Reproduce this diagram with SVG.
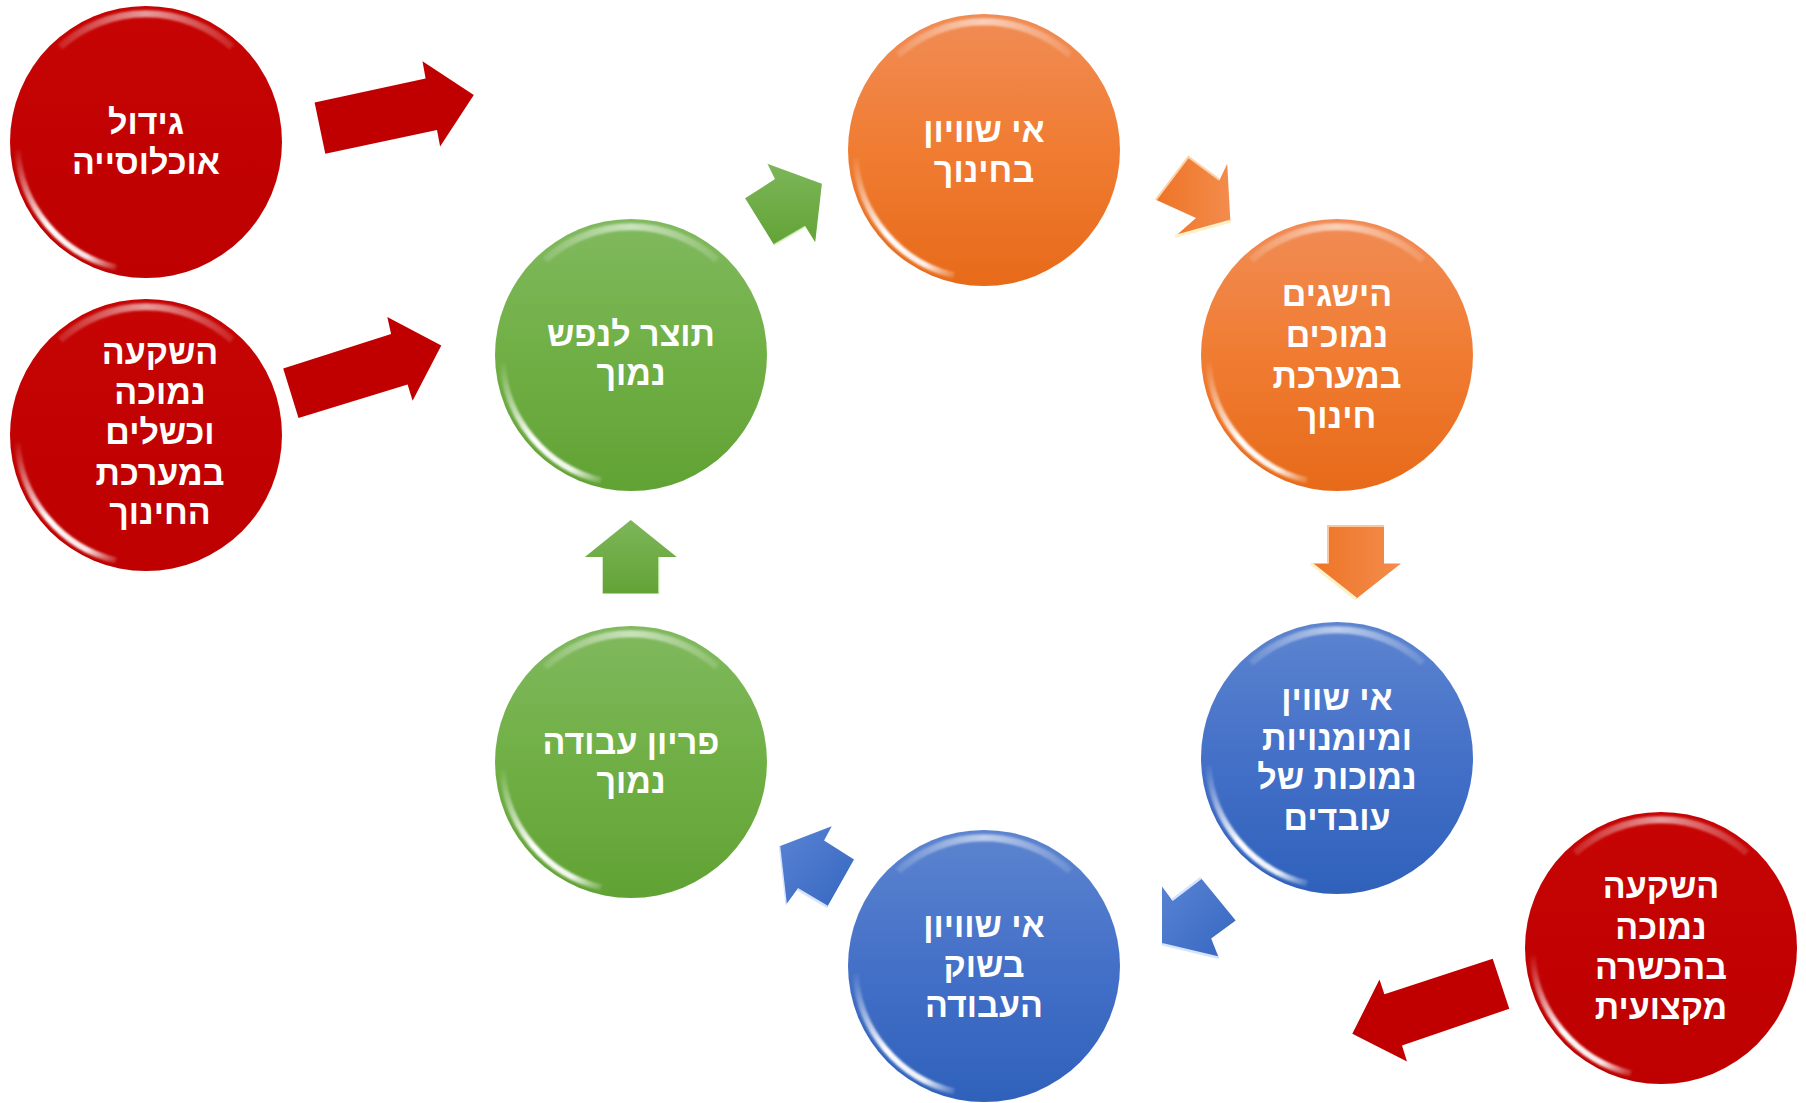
<svg xmlns="http://www.w3.org/2000/svg" xmlns:xlink="http://www.w3.org/1999/xlink" width="1806" height="1103" viewBox="0 0 1806 1103">
<style>
.lbl{font-family:"Liberation Sans","DejaVu Sans",Arial,sans-serif;font-weight:bold;font-size:34px;fill:#ffffff;text-anchor:middle}
</style>
<defs>
<linearGradient id="gRed" x1="0" y1="0" x2="0" y2="1"><stop offset="0" stop-color="#C60404"/><stop offset="1" stop-color="#BE0000"/></linearGradient>
<linearGradient id="gOrange" x1="0" y1="0" x2="0" y2="1"><stop offset="0" stop-color="#F18C55"/><stop offset="0.5" stop-color="#F07C32"/><stop offset="1" stop-color="#E76A19"/></linearGradient>
<linearGradient id="gGreen" x1="0" y1="0" x2="0" y2="1"><stop offset="0" stop-color="#80B95E"/><stop offset="0.5" stop-color="#70AF45"/><stop offset="1" stop-color="#61A234"/></linearGradient>
<linearGradient id="gBlue" x1="0" y1="0" x2="0" y2="1"><stop offset="0" stop-color="#5C84CF"/><stop offset="0.5" stop-color="#4470C8"/><stop offset="1" stop-color="#2F61BB"/></linearGradient>
<linearGradient id="aGreen" x1="0" y1="0" x2="0" y2="1"><stop offset="0" stop-color="#7DB65A"/><stop offset="1" stop-color="#62A335"/></linearGradient>
<linearGradient id="aOrange" x1="0" y1="0" x2="1" y2="0"><stop offset="0" stop-color="#EE7426"/><stop offset="1" stop-color="#F38C4C"/></linearGradient>
<linearGradient id="aBlue" x1="0" y1="0" x2="1" y2="1"><stop offset="0" stop-color="#5A84D4"/><stop offset="1" stop-color="#3566C0"/></linearGradient>
<linearGradient id="glossLow" gradientUnits="userSpaceOnUse" x1="-130" y1="5" x2="-25" y2="128"><stop offset="0" stop-color="#fff" stop-opacity="0"/><stop offset="0.5" stop-color="#fff" stop-opacity="1"/><stop offset="0.8" stop-color="#fff" stop-opacity="0.9"/><stop offset="1" stop-color="#fff" stop-opacity="0"/></linearGradient>
<linearGradient id="glossTop" gradientUnits="userSpaceOnUse" x1="-110" y1="0" x2="110" y2="0"><stop offset="0" stop-color="#fff" stop-opacity="0"/><stop offset="0.5" stop-color="#fff" stop-opacity="0.6"/><stop offset="1" stop-color="#fff" stop-opacity="0"/></linearGradient>
<linearGradient id="glossRight" gradientUnits="userSpaceOnUse" x1="0" y1="-100" x2="0" y2="100"><stop offset="0" stop-color="#fff" stop-opacity="0"/><stop offset="0.5" stop-color="#fff" stop-opacity="0.8"/><stop offset="1" stop-color="#fff" stop-opacity="0"/></linearGradient>
<filter id="soft" x="-20%" y="-20%" width="140%" height="140%"><feGaussianBlur stdDeviation="1"/></filter>
<g id="gloss">
<path d="M -128.5 8 A 129 129 0 0 0 -30 125.5" fill="none" stroke="url(#glossLow)" stroke-width="6" filter="url(#soft)"/>
<path d="M -86 -95 A 128 128 0 0 1 86 -95" fill="none" stroke="url(#glossTop)" stroke-width="7" filter="url(#soft)"/>
<path d="M 128 -60 A 134 134 0 0 1 128 60" fill="none" stroke="url(#glossRight)" stroke-width="3" filter="url(#soft)"/>
</g>
</defs>
<rect width="1806" height="1103" fill="#ffffff"/>

<g id="connectors">
<polygon points="314.6,102.6 425.6,78.5 422.5,61.2 473.8,94.9 440.1,146.6 437,130.1 325.3,153.8" fill="#C00000"/>
<polygon points="283.2,368.5 391.1,334.1 387.3,316.9 441.3,345.6 412.6,400.7 407.6,384.6 298.5,417.9" fill="#C00000"/>
<polygon points="1492.7,958.8 1384.4,994.2 1379.5,979.6 1352.3,1033.8 1407,1061.5 1402,1045.4 1509.3,1008.8" fill="#C00000"/>
<polygon points="745.1,198.2 775,179.1 767.4,163.8 821.9,183.7 815.2,242.2 805.4,226.6 774.1,244.9" fill="url(#aGreen)"/>
<polyline points="774.1,244.9 805.4,226.6" fill="none" stroke="#DFF5C8" stroke-width="2" opacity="0.8"/>
<polygon points="602.7,593.5 602.7,557 584.8,557 630.8,520 676.8,557 659,557 659,593.5" fill="url(#aGreen)"/>
<polyline points="659,557 659,593.5" fill="none" stroke="#DFF5C8" stroke-width="2" opacity="0.7"/>
<polygon points="1155.8,199.8 1188.4,156.9 1219.6,179.9 1227.2,163.8 1230.4,221.2 1175,236.5 1196,218.1" fill="url(#aOrange)"/>
<polyline points="1155.8,199.8 1188.4,156.9 1219.6,179.9" fill="none" stroke="#FBD2A8" stroke-width="2"/>
<polyline points="1175,236.5 1230.4,221.2" fill="none" stroke="#FFF0C8" stroke-width="3"/>
<polygon points="1328,526 1384,526 1384,563.5 1401,563.5 1356,599 1311,563.5 1328,563.5" fill="url(#aOrange)"/>
<polyline points="1311,563.5 1356,599" fill="none" stroke="#FFF0C8" stroke-width="3"/>
<polyline points="1328,563.5 1328,526 1384,526" fill="none" stroke="#FBC79A" stroke-width="2"/>
<polygon points="1200.9,878 1235.7,920.4 1211.2,938.5 1218.8,957.7 1162,944.2 1162,886.5 1172,900" fill="url(#aBlue)"/>
<polyline points="1162,944.2 1218.8,957.7" fill="none" stroke="#D6E4FF" stroke-width="2.5"/>
<polyline points="1172,900 1200.9,878" fill="none" stroke="#D6E4FF" stroke-width="2.5"/>
<polygon points="779.5,846.2 831.7,826.2 824.1,840.4 854,859.6 827.2,906.9 797.3,889.2 786.2,904.6" fill="url(#aBlue)"/>
<polyline points="797.3,889.2 827.2,906.9" fill="none" stroke="#D6E4FF" stroke-width="2.5"/>
<polyline points="779.5,846.2 786.2,904.6" fill="none" stroke="#D6E4FF" stroke-width="1.5"/>
</g>

<g id="node-population" transform="translate(146,142)">
<circle r="136" fill="url(#gRed)"/>
<use href="#gloss"/>
<text class="lbl" x="0" y="-8">גידול</text>
<text class="lbl" x="0" y="32">אוכלוסייה</text>
</g>

<g id="node-invest-edu" transform="translate(146,435)">
<circle r="136" fill="url(#gRed)"/>
<use href="#gloss"/>
<text class="lbl" x="14" y="-71">השקעה</text>
<text class="lbl" x="14" y="-31">נמוכה</text>
<text class="lbl" x="14" y="9">וכשלים</text>
<text class="lbl" x="14" y="50">במערכת</text>
<text class="lbl" x="14" y="89">החינוך</text>
</g>

<g id="node-gdp" transform="translate(631,355)">
<circle r="136" fill="url(#gGreen)"/>
<use href="#gloss"/>
<text class="lbl" x="0" y="-9">תוצר לנפש</text>
<text class="lbl" x="0" y="30">נמוך</text>
</g>

<g id="node-edu-inequality" transform="translate(984,150)">
<circle r="136" fill="url(#gOrange)"/>
<use href="#gloss"/>
<text class="lbl" x="0" y="-8">אי שוויון</text>
<text class="lbl" x="0" y="32">בחינוך</text>
</g>

<g id="node-achievements" transform="translate(1337,355)">
<circle r="136" fill="url(#gOrange)"/>
<use href="#gloss"/>
<text class="lbl" x="0" y="-49">הישגים</text>
<text class="lbl" x="0" y="-8">נמוכים</text>
<text class="lbl" x="0" y="33">במערכת</text>
<text class="lbl" x="0" y="73">חינוך</text>
</g>

<g id="node-skills" transform="translate(1337,758)">
<circle r="136" fill="url(#gBlue)"/>
<use href="#gloss"/>
<text class="lbl" x="0" y="-48">אי שווין</text>
<text class="lbl" x="0" y="-8">ומיומנויות</text>
<text class="lbl" x="0" y="31">נמוכות של</text>
<text class="lbl" x="0" y="72">עובדים</text>
</g>

<g id="node-labor-market" transform="translate(984,966)">
<circle r="136" fill="url(#gBlue)"/>
<use href="#gloss"/>
<text class="lbl" x="0" y="-29.5">אי שוויון</text>
<text class="lbl" x="0" y="11">בשוק</text>
<text class="lbl" x="0" y="51">העבודה</text>
</g>

<g id="node-productivity" transform="translate(631,762)">
<circle r="136" fill="url(#gGreen)"/>
<use href="#gloss"/>
<text class="lbl" x="0" y="-8">פריון עבודה</text>
<text class="lbl" x="0" y="31">נמוך</text>
</g>

<g id="node-invest-training" transform="translate(1661,948)">
<circle r="136" fill="url(#gRed)"/>
<use href="#gloss"/>
<text class="lbl" x="0" y="-50">השקעה</text>
<text class="lbl" x="0" y="-9.5">נמוכה</text>
<text class="lbl" x="0" y="31">בהכשרה</text>
<text class="lbl" x="0" y="71">מקצועית</text>
</g>
</svg>
